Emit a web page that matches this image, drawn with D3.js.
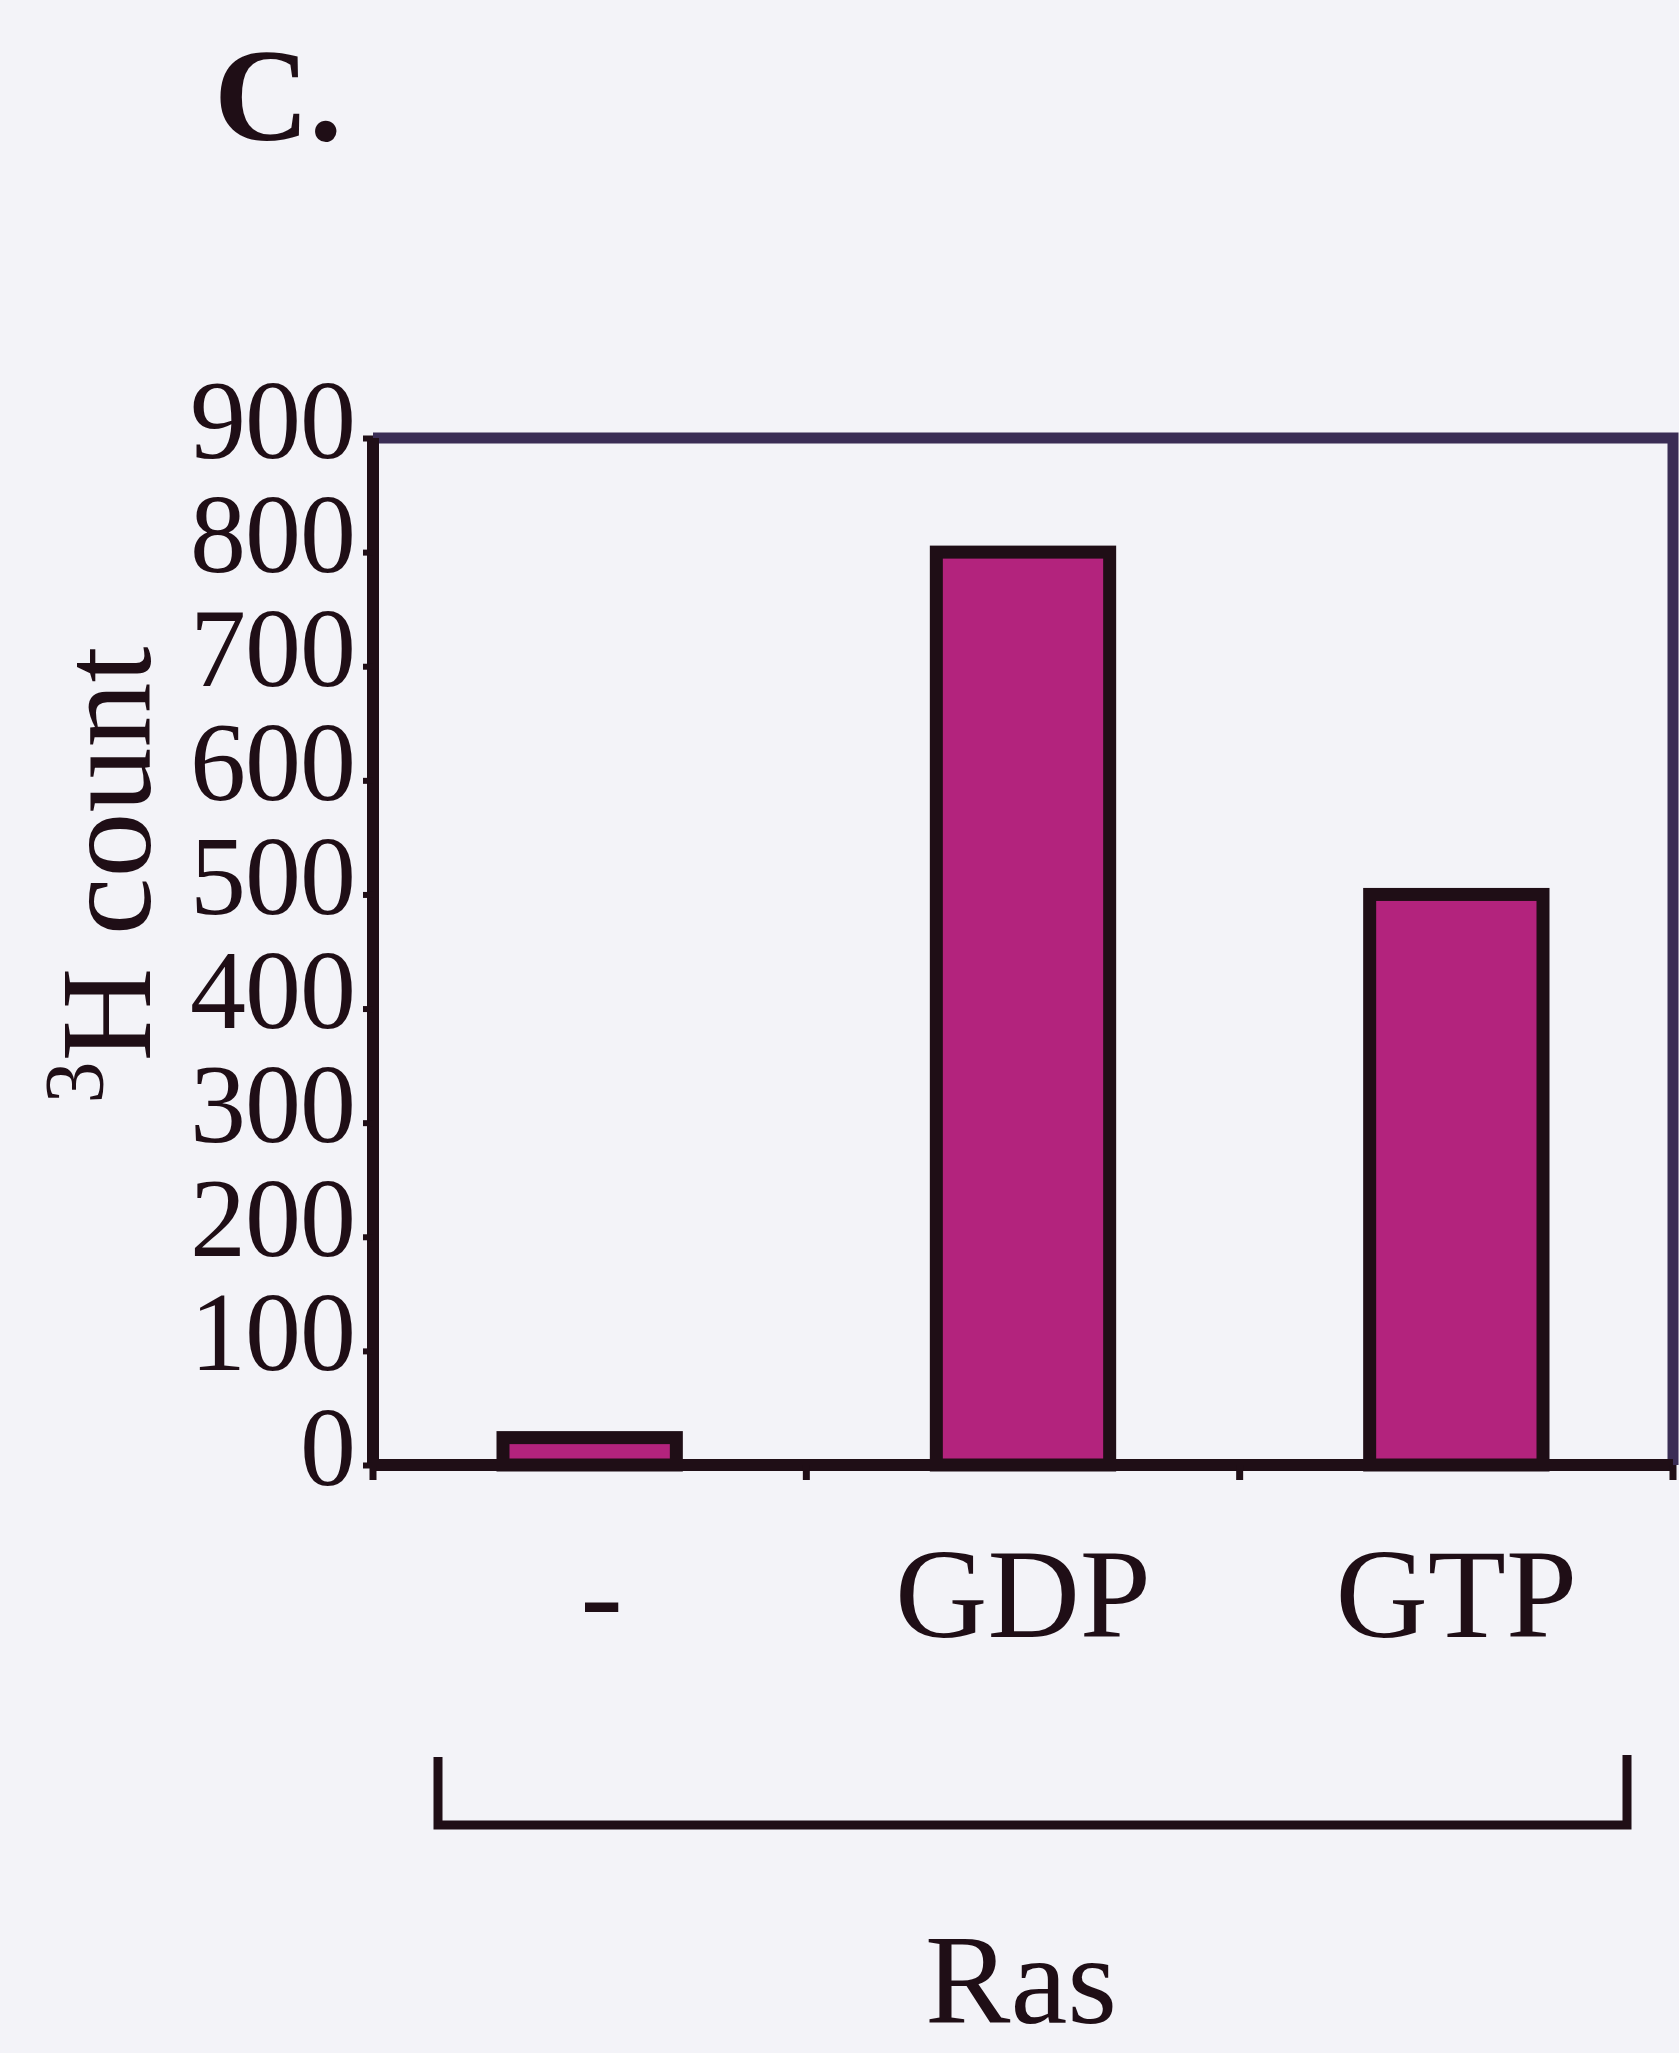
<!DOCTYPE html>
<html>
<head>
<meta charset="utf-8">
<script src="https://cdn.jsdelivr.net/npm/d3@7"></script>
<style>
  html, body { margin: 0; padding: 0; background: #f3f3f8; }
  svg { display: block; font-family: 'Liberation Serif', 'Times New Roman', serif; }
</style>
</head>
<body>
<div id="chart"></div>
<script>
const categories = ['-', 'GDP', 'GTP'];
const counts = [24, 800, 500];
const yTicks = [0, 100, 200, 300, 400, 500, 600, 700, 800, 900];
const panelLabel = 'C.';
const groupLabel = 'Ras';

const width = 1679;
const height = 2053;
const plot = { left: 373, right: 1673, top: 438, bottom: 1465 };
const serif = "'Liberation Serif', 'Times New Roman', serif";
const ink = '#1f0e16';
const frameInk = '#3a2d55';
const barFill = '#b3237d';

const svg = d3
  .select('#chart')
  .append('svg')
  .attr('width', width)
  .attr('height', height);

svg
  .append('rect')
  .attr('width', width)
  .attr('height', height)
  .attr('fill', '#f3f3f8');

const x = d3
  .scaleBand()
  .domain(categories)
  .range([plot.left, plot.right])
  .paddingInner(0.6)
  .paddingOuter(0.3);

const y = d3.scaleLinear().domain([0, 900]).range([plot.bottom, plot.top]);

// top and right frame lines are thinner and a little bluer than the axes
svg
  .append('path')
  .attr('d', `M${plot.left},${y(900)}H${plot.right}V${y(0)}`)
  .attr('fill', 'none')
  .attr('stroke', frameInk)
  .attr('stroke-width', 11);

svg
  .selectAll('rect.bar')
  .data(counts)
  .join('rect')
  .attr('class', 'bar')
  .attr('x', (_d, i) => x(categories[i]))
  .attr('width', x.bandwidth())
  .attr('y', d => y(d))
  .attr('height', d => y(0) - y(d))
  .attr('fill', barFill)
  .attr('stroke', ink)
  .attr('stroke-width', 13);

// y axis
const yAxis = svg
  .append('g')
  .attr('transform', `translate(${plot.left},0)`)
  .call(
    d3
      .axisLeft(y)
      .tickValues(yTicks)
      .tickSize(10)
      .tickPadding(8)
      .tickFormat(d => d.toString())
  )
  .attr('font-family', serif);

yAxis
  .select('.domain')
  .attr('d', `M0,${y(900)}V${y(0)}`)
  .attr('stroke', ink)
  .attr('stroke-width', 12);

yAxis.selectAll('.tick line').attr('stroke', ink).attr('stroke-width', 6);

yAxis
  .selectAll('.tick text')
  .attr('fill', ink)
  .attr('font-size', 112)
  .attr('letter-spacing', -1)
  .attr('dy', 19);

// x axis, ticks sit on the category boundaries
const boundaries = categories.map(c => x(c) - (x.step() * x.paddingInner()) / 2);
boundaries[0] = plot.left;
boundaries.push(plot.right);

const xAxis = svg.append('g');

xAxis
  .append('line')
  .attr('x1', plot.left)
  .attr('x2', plot.right)
  .attr('y1', y(0))
  .attr('y2', y(0))
  .attr('stroke', ink)
  .attr('stroke-width', 12);

xAxis
  .selectAll('line.tick')
  .data(boundaries)
  .join('line')
  .attr('class', 'tick')
  .attr('x1', d => d)
  .attr('x2', d => d)
  .attr('y1', y(0))
  .attr('y2', y(0) + 15)
  .attr('stroke', ink)
  .attr('stroke-width', 7);

xAxis
  .selectAll('text')
  .data(categories)
  .join('text')
  .attr('x', d => x(d) + x.bandwidth() / 2)
  .attr('dx', d => (d === '-' ? 12 : 0))
  .attr('y', 1637)
  .attr('text-anchor', 'middle')
  .attr('font-size', 128)
  .attr('fill', ink)
  .text(d => d);

// bracket under all three categories
svg
  .append('path')
  .attr('d', 'M438,1757V1825H1627V1755')
  .attr('fill', 'none')
  .attr('stroke', ink)
  .attr('stroke-width', 9);

svg
  .append('text')
  .attr('x', 1021)
  .attr('y', 2023)
  .attr('text-anchor', 'middle')
  .attr('font-size', 128)
  .attr('fill', ink)
  .text(groupLabel);

// y title with superscript 3
const yTitle = svg
  .append('text')
  .attr('transform', 'translate(150,875) rotate(-90)')
  .attr('text-anchor', 'middle')
  .attr('fill', ink);

yTitle.append('tspan').attr('font-size', 84).attr('dy', -47).text('3');
yTitle.append('tspan').attr('font-size', 130).attr('dy', 47).text('H count');

svg
  .append('text')
  .attr('x', 214)
  .attr('y', 140)
  .attr('font-size', 132)
  .attr('font-weight', 'bold')
  .attr('fill', ink)
  .text(panelLabel);
</script>
</body>
</html>
